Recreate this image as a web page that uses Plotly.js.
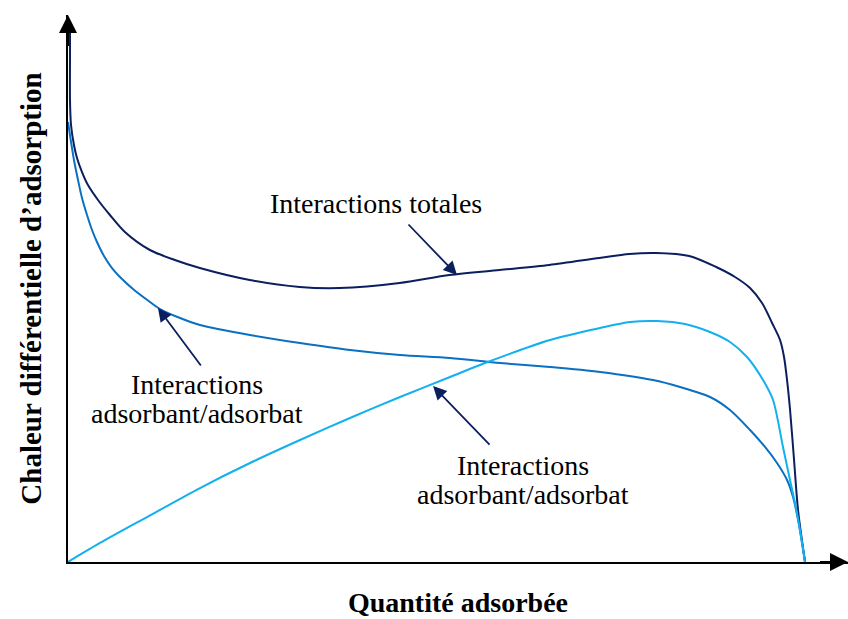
<!DOCTYPE html>
<html>
<head>
<meta charset="utf-8">
<script src="https://cdn.plot.ly/plotly-3.0.1.min.js"></script>
<style>
  html, body { margin: 0; padding: 0; background: #fff; }
  #chart { width: 848px; height: 619px; }
  #warm { position: absolute; left: 0; top: 0; font-family: 'Liberation Serif'; font-size: 1px; color: #fff; }
</style>
</head>
<body>
<div id="chart"></div>
<div id="warm">I <b>I</b></div>
<script>
// courbes (unités arbitraires, x 0..100, y 0..100)
let totalX = [0.27, 0.27, 0.27, 0.41, 0.81, 1.22, 1.90, 2.71, 4.07, 5.69, 7.72, 11.11, 14.50, 17.89, 24.66, 31.44, 36.86, 44.99, 51.76, 58.54, 65.31, 72.09, 76.15, 79.81, 84.28, 87.94, 90.50, 92.54, 94.17, 95.53, 96.61, 97.15, 97.56, 97.97, 98.51, 99.05, 100];
let totalY = [100, 92.96, 85.56, 80.93, 77.22, 74.81, 72.22, 69.81, 67.04, 64.26, 61.11, 57.78, 55.93, 54.44, 52.22, 50.93, 50.74, 51.67, 53.15, 54.07, 55.00, 56.30, 57.04, 57.22, 56.67, 54.63, 52.78, 50.74, 47.96, 44.26, 41.11, 37.96, 33.70, 28.15, 18.89, 9.63, 0];

let adsorbantX = [0, 0.41, 0.81, 1.36, 1.90, 2.58, 3.26, 3.93, 4.88, 5.97, 7.33, 8.82, 10.58, 12.48, 15.20, 17.91, 24.69, 31.48, 38.26, 45.05, 51.83, 58.62, 65.40, 72.18, 79.38, 83.04, 87.11, 89.82, 92.54, 94.57, 96.20, 97.56, 98.37, 99.19, 100];
let adsorbantY = [81.48, 77.78, 74.44, 70.74, 67.41, 64.26, 61.48, 59.26, 56.67, 54.44, 52.41, 50.56, 48.70, 46.85, 45.19, 43.89, 42.04, 40.56, 39.26, 38.33, 37.78, 36.85, 36.11, 35.19, 33.70, 32.41, 30.56, 28.15, 24.44, 21.30, 18.33, 15.19, 12.04, 6.85, 0];

let adsorbatX = [0, 4.34, 10.72, 17.91, 24.69, 31.48, 38.26, 45.05, 51.83, 56.58, 65.40, 72.18, 76.26, 79.92, 83.72, 87.11, 89.82, 92.13, 94.30, 95.66, 97.01, 97.96, 98.91, 100];
let adsorbatY = [0, 3.52, 8.33, 13.70, 18.33, 22.59, 26.67, 30.56, 34.26, 36.85, 41.11, 43.33, 44.44, 44.63, 44.07, 42.59, 40.74, 37.96, 33.70, 30.00, 21.30, 15.19, 9.07, 0];

let labelTotal = 'Interactions totales';
let labelLine1 = 'Interactions';
let labelLine2 = 'adsorbant/adsorbat';
let titleX = 'Quantité adsorbée';
let titleY = 'Chaleur différentielle d’adsorption';

let navy = '#0B1F5E';
let serifFont = 'Liberation Serif';

let trace1 = {
    x: totalX, y: totalY,
    type: 'scatter', mode: 'lines',
    line: { color: navy, width: 2, shape: 'spline', smoothing: 0.8 },
    hoverinfo: 'skip'
};
let trace2 = {
    x: adsorbantX, y: adsorbantY,
    type: 'scatter', mode: 'lines',
    line: { color: '#0A70C2', width: 2, shape: 'spline', smoothing: 0.8 },
    hoverinfo: 'skip'
};
let trace3 = {
    x: adsorbatX, y: adsorbatY,
    type: 'scatter', mode: 'lines',
    line: { color: '#12B0EE', width: 2, shape: 'spline', smoothing: 0.8 },
    hoverinfo: 'skip'
};

function textNote(txt, x, y) {
    return {
        x: x, y: y, xref: 'x', yref: 'y',
        text: txt, showarrow: false,
        xanchor: 'center', yanchor: 'middle',
        font: { family: serifFont, size: 28, color: '#000' }
    };
}

function arrowNote(x, y, ax, ay, color, size, width) {
    return {
        x: x, y: y, ax: ax, ay: ay,
        xref: 'x', yref: 'y', axref: 'x', ayref: 'y',
        text: '', showarrow: true,
        arrowhead: 2, arrowsize: size, arrowwidth: width,
        arrowcolor: color, standoff: 0
    };
}

let xMax = 105.83;
let yMax = 101.3;

let annotations = [
    textNote(labelTotal, 41.78, 66.3),
    textNote(labelLine1, 17.44, 32.96),
    textNote(labelLine2, 17.44, 27.41),
    textNote(labelLine1, 61.74, 17.96),
    textNote(labelLine2, 61.74, 12.41),
    arrowNote(52.78, 53.15, 46.0, 62.78, navy, 1.5, 1.8),
    arrowNote(12.21, 47.04, 18.18, 36.11, navy, 1.5, 1.8),
    arrowNote(49.53, 32.59, 57.39, 21.48, navy, 1.5, 1.8),
    // pointes des axes
    arrowNote(xMax, 0, xMax - 4, 0, '#000', 1.8, 2),
    arrowNote(0, yMax, 0, yMax - 6, '#000', 1.8, 2)
];

let layout = {
    width: 848,
    height: 619,
    margin: { l: 68, r: 0, t: 15, b: 57 },
    paper_bgcolor: '#fff',
    plot_bgcolor: '#fff',
    showlegend: false,
    xaxis: {
        range: [0, xMax],
        showgrid: false, zeroline: false,
        showline: true, linecolor: '#000', linewidth: 2,
        ticks: '', showticklabels: false,
        title: { text: titleX, standoff: 29, font: { family: serifFont, size: 28, color: '#000', weight: 'bold' } }
    },
    yaxis: {
        range: [0, yMax],
        showgrid: false, zeroline: false,
        showline: true, linecolor: '#000', linewidth: 2,
        ticks: '', showticklabels: false,
        title: { text: titleY, standoff: 16, font: { family: serifFont, size: 29, color: '#000', weight: 'bold' } }
    },
    annotations: annotations
};

function draw() {
    return Plotly.newPlot('chart', [trace1, trace2, trace3], layout, { displayModeBar: false });
}

// la police serif doit être prête avant le tracé, puis on force un nouveau rendu
let fontsReady = document.fonts
    ? Promise.all([
        document.fonts.load('28px "Liberation Serif"'),
        document.fonts.load('bold 28px "Liberation Serif"')
    ]).catch(function () {})
    : Promise.resolve();

fontsReady.then(draw).then(function () {
    return Plotly.relayout('chart', { 'xaxis.range': [0, xMax] });
}).then(function () {
    document.getElementById('warm').textContent = 'I';
});
</script>
</body>
</html>
